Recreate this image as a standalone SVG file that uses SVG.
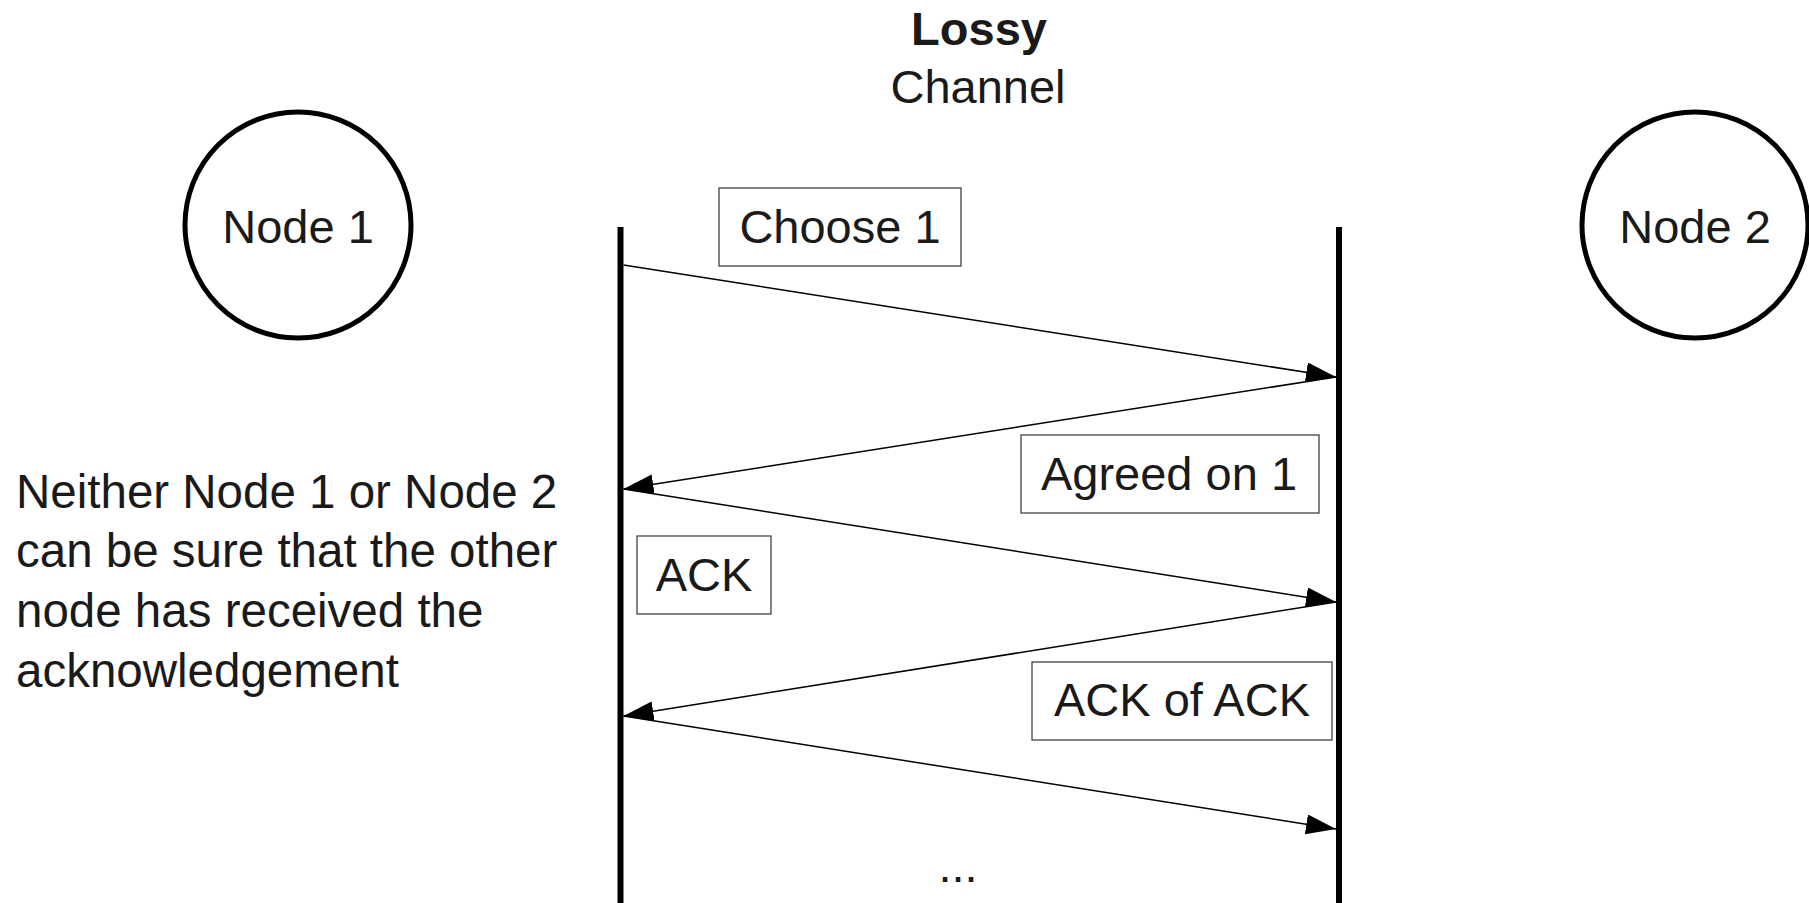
<svg xmlns="http://www.w3.org/2000/svg" width="1809" height="903" viewBox="0 0 1809 903">
  <style>
    text { font-family: "Liberation Sans", Arial, sans-serif; fill: #1a1a1a; }
    .lbl { font-size: 47px; }
    .note { font-size: 47.5px; }
    .mid { text-anchor: middle; }
    .node { fill: #ffffff; stroke: #000000; stroke-width: 5; }
    .box { fill: #ffffff; stroke: #333333; stroke-width: 1.2; }
    .life { stroke: #000000; stroke-width: 6; }
    .msg { stroke: #000000; stroke-width: 1.5; fill: none; marker-end: url(#arrow); }
  </style>
  <defs>
    <marker id="arrow" markerUnits="userSpaceOnUse" markerWidth="32" markerHeight="22" refX="30" refY="10" orient="auto">
      <path d="M0,0 L30,10 L0,20 z" fill="#000000"/>
    </marker>
  </defs>
  <rect width="1809" height="903" fill="#ffffff"/>

  <g id="title">
    <text class="lbl mid" x="979" y="45" font-weight="bold">Lossy</text>
    <text class="lbl mid" x="978" y="103">Channel</text>
  </g>

  <g id="node1">
    <circle class="node" cx="298" cy="225" r="113"/>
    <text class="lbl mid" x="298" y="243">Node 1</text>
  </g>
  <g id="node2">
    <circle class="node" cx="1695" cy="225" r="113"/>
    <text class="lbl mid" x="1695" y="243">Node 2</text>
  </g>

  <g id="lifelines">
    <line class="life" x1="620.5" y1="227" x2="620.5" y2="903"/>
    <line class="life" x1="1339" y1="227" x2="1339" y2="903"/>
  </g>

  <g id="connectors">
    <line class="msg" x1="623.5" y1="265" x2="1336" y2="377"/>
    <line class="msg" x1="1336" y1="377" x2="623.5" y2="489"/>
    <line class="msg" x1="623.5" y1="489" x2="1336" y2="602"/>
    <line class="msg" x1="1336" y1="602" x2="623.5" y2="716"/>
    <line class="msg" x1="623.5" y1="716" x2="1336" y2="829"/>
  </g>

  <g id="label-choose">
    <rect class="box" x="719" y="188" width="242" height="78"/>
    <text class="lbl mid" x="840" y="243">Choose 1</text>
  </g>
  <g id="label-agreed">
    <rect class="box" x="1021" y="435" width="298" height="78"/>
    <text class="lbl mid" x="1169" y="490">Agreed on 1</text>
  </g>
  <g id="label-ack">
    <rect class="box" x="637" y="536" width="134" height="78"/>
    <text class="lbl mid" x="704" y="591">ACK</text>
  </g>
  <g id="label-ackack">
    <rect class="box" x="1032" y="662" width="300" height="78"/>
    <text class="lbl mid" x="1182" y="716">ACK of ACK</text>
  </g>

  <g id="note">
    <text class="note" x="16" y="508">Neither Node 1 or Node 2</text>
    <text class="note" x="16" y="567">can be sure that the other</text>
    <text class="note" x="16" y="627">node has received the</text>
    <text class="note" x="16" y="687">acknowledgement</text>
  </g>

  <g id="ellipsis">
    <text class="lbl mid" x="958" y="882">...</text>
  </g>
</svg>
